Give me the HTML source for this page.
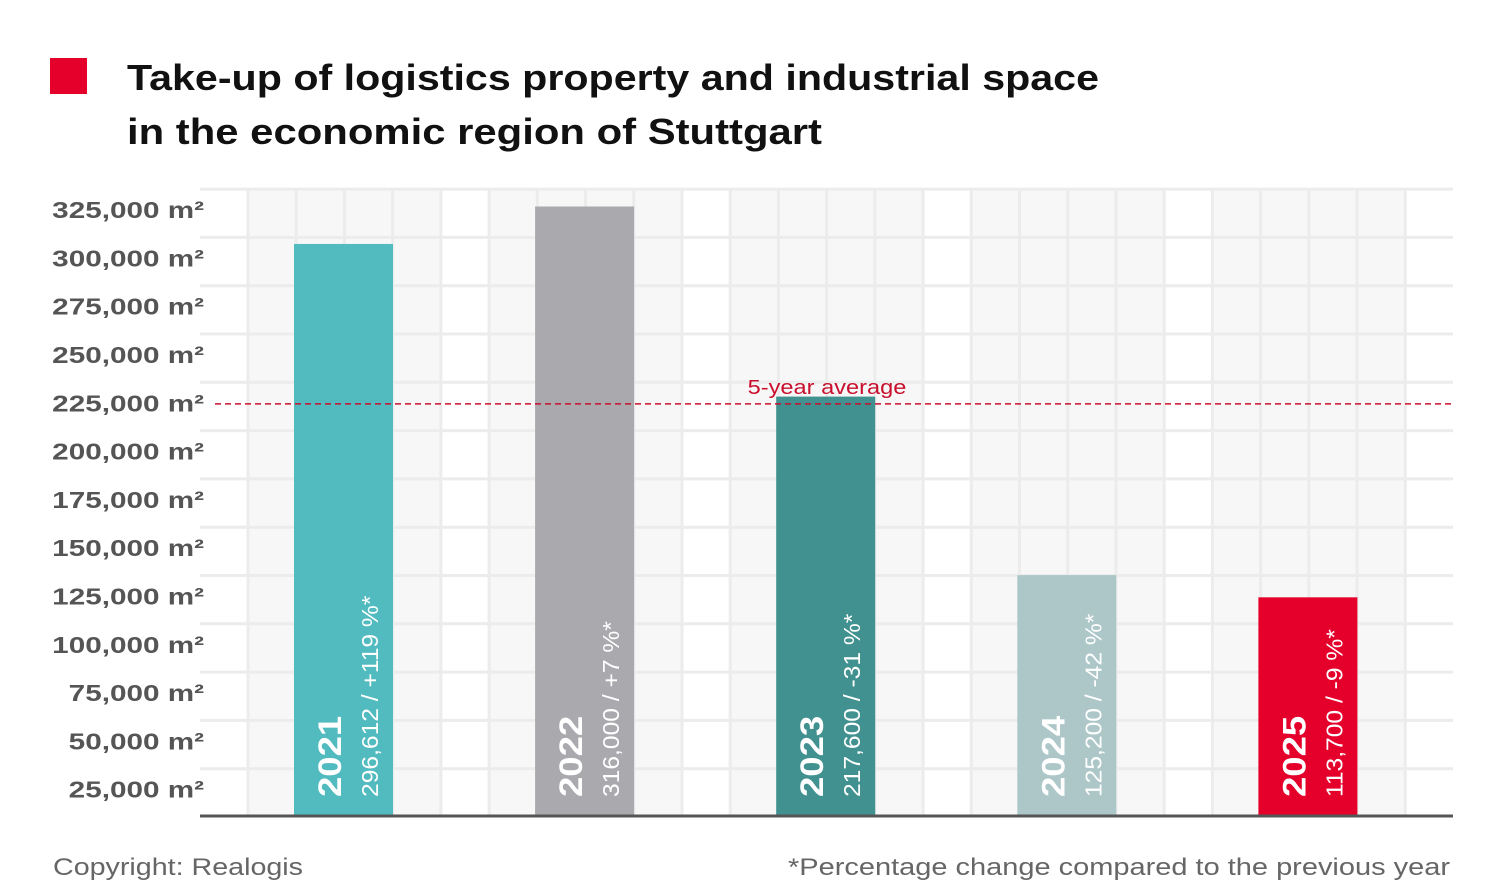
<!DOCTYPE html>
<html><head><meta charset="utf-8">
<style>
html,body{margin:0;padding:0;background:#fff;}
svg{display:block;font-family:"Liberation Sans",sans-serif;}
</style></head>
<body>
<svg id="chart" width="1506" height="886" viewBox="0 0 1506 886">
  <rect x="50" y="58" width="37" height="36" fill="#e4002b"/>
  <text x="127" y="90" font-size="36" font-weight="bold" fill="#111" textLength="972" lengthAdjust="spacingAndGlyphs">Take-up of logistics property and industrial space</text>
  <text x="127" y="144" font-size="36" font-weight="bold" fill="#111" textLength="695" lengthAdjust="spacingAndGlyphs">in the economic region of Stuttgart</text>
  <g id="grid"></g>
  <g id="yaxis"></g>
  <g id="bars"></g>
  <g id="avg"></g>
  <line x1="200" y1="816" x2="1453" y2="816" stroke="#555" stroke-width="3"/>
  <text x="53" y="875" font-size="24" fill="#666" textLength="250" lengthAdjust="spacingAndGlyphs">Copyright: Realogis</text>
  <text x="788" y="875" font-size="24" fill="#666" textLength="662" lengthAdjust="spacingAndGlyphs">*Percentage change compared to the previous year</text>
</svg>
<script>
const years = ["2021","2022","2023","2024","2025"];
const values = [296612, 316000, 217600, 125200, 113700];
const changes = ["+119 %*", "+7 %*", "-31 %*", "-42 %*", "-9 %*"];
const valueLabels = ["296,612", "316,000", "217,600", "125,200", "113,700"];
const yTicks = [25000,50000,75000,100000,125000,150000,175000,200000,225000,250000,275000,300000,325000];
const colors = ["#52bbbf","#a9a9ae","#40918f","#adc7c8","#e4002b"];

const NS = "http://www.w3.org/2000/svg";
const y0 = 817, pxPer = 48.3/25000;
const yScale = v => y0 - v*pxPer;
const plotL = 248, groupW = 241.1;
const xBar = i => plotL + 46 + i*groupW;
const barW = 99;
function mk(tag, attrs, parent){const e=document.createElementNS(NS,tag);for(const k in attrs)e.setAttribute(k,attrs[k]);parent.appendChild(e);return e;}
function stretch(el, f){const w=el.getComputedTextLength();el.setAttribute('textLength',(w*f).toFixed(1));el.setAttribute('lengthAdjust','spacingAndGlyphs');}

const grid = document.getElementById('grid');
for(let g=0; g<5; g++){
  const r = mk('rect',{x:plotL+g*groupW, y:190, width:groupW*0.8, height:626, fill:'#f7f7f7'},grid);
  
  
}
for(let c=0; c<25; c++){
  const x = plotL + c*groupW/5;
  const l = mk('line',{x1:x,y1:190,x2:x,y2:816,stroke:'#ececec','stroke-width':3},grid);
  
  
}
const yax = document.getElementById('yaxis');
yTicks.forEach(v=>{
  const y = yScale(v);
  const l = mk('line',{x1:200,y1:y,x2:1453,y2:y,stroke:'#ececec','stroke-width':3},grid);
  
  
  const t = mk('text',{x:204,y:y+29,'text-anchor':'end','font-size':23,'font-weight':'bold',fill:'#555'},yax);
  t.textContent = v.toLocaleString('en-US')+' m²';
  
  
  stretch(t,1.29);
});
const bars = document.getElementById('bars');
values.forEach((v,i)=>{
  const x = xBar(i), top = yScale(v);
  const r = mk('rect',{x:x,y:top,width:barW,height:816-top,fill:colors[i]},bars);
  
  
  const t1 = mk('text',{transform:`translate(${x+47},797) rotate(-90)`,'font-size':32,'font-weight':'bold',fill:'#fff'},bars);
  t1.textContent = years[i];
  
  
  stretch(t1,1.14);
  const t2 = mk('text',{transform:`translate(${x+84},797) rotate(-90)`,'font-size':23,fill:'#fff'},bars);
  t2.textContent = valueLabels[i]+' / '+changes[i];
  
  
  stretch(t2,1.07);
});
const avgVal = values.reduce((a,b)=>a+b,0)/values.length;
const avg = document.getElementById('avg');
const ay = yScale(avgVal);
const al = mk('line',{x1:215,y1:ay,x2:1453,y2:ay,stroke:'#c8102e','stroke-width':1.5,'stroke-dasharray':'6,4'},avg);


const at = mk('text',{x:827,y:ay-10,'text-anchor':'middle','font-size':20,fill:'#c8102e'},avg);
at.textContent = '5-year average';


stretch(at,1.18);
</script>
</body></html>
